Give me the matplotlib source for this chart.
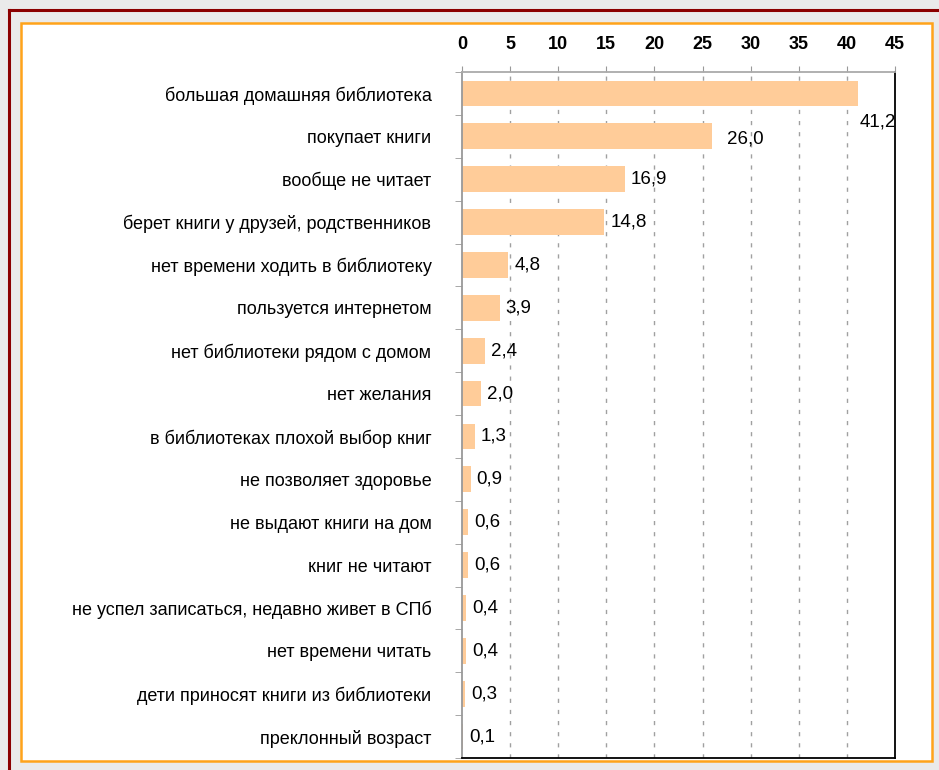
import numpy as np
import matplotlib.pyplot as plt
from matplotlib.patches import Rectangle
from matplotlib.lines import Line2D

plt.rcParams['font.family'] = ['Liberation Sans', 'DejaVu Sans']

categories = [
    'большая домашняя библиотека',
    'покупает книги',
    'вообще не читает',
    'берет книги у друзей, родственников',
    'нет времени ходить в библиотеку',
    'пользуется интернетом',
    'нет библиотеки рядом с домом',
    'нет желания',
    'в библиотеках плохой выбор книг',
    'не позволяет здоровье',
    'не выдают книги на дом',
    'книг не читают',
    'не успел записаться, недавно живет в СПб',
    'нет времени читать',
    'дети приносят книги из библиотеки',
    'преклонный возраст',
]
values = [41.2, 26.0, 16.9, 14.8, 4.8, 3.9, 2.4, 2.0, 1.3, 0.9, 0.6, 0.6, 0.4, 0.4, 0.3, 0.1]
xticks = [0, 5, 10, 15, 20, 25, 30, 35, 40, 45]

W, H = 939, 770
fig = plt.figure(figsize=(W / 100, H / 100), dpi=100)
fig.patch.set_facecolor('#EAEAEA')

# frame: dark red outer edge, orange inner box (behind the axes)
fig.add_artist(Line2D([9 / W, 9 / W], [0, 1 - 10 / H], color='#8B0000', lw=2.2,
                      transform=fig.transFigure, zorder=-5))
fig.add_artist(Line2D([9 / W, 1], [1 - 10 / H, 1 - 10 / H], color='#8B0000', lw=2.2,
                      transform=fig.transFigure, zorder=-5))
fig.add_artist(Rectangle((21 / W, 1 - 761 / H), (932 - 21) / W, (761 - 23) / H,
                         facecolor='white', edgecolor='#FFA31A', lw=1.8,
                         transform=fig.transFigure, zorder=-5))

ax = fig.add_axes([462 / W, 1 - 758 / H, (895 - 462) / W, (758 - 72) / H])
ax.patch.set_alpha(0)
n = len(categories)
y = np.arange(n)
ax.barh(y, values, height=0.6, color='#FFCC99', zorder=2)
ax.set_xlim(0, 45)
ax.set_ylim(n - 0.5, -0.5)

ax.xaxis.tick_top()
ax.set_xticks(xticks)
ax.set_xticklabels([str(t) for t in xticks], fontsize=13, fontweight='bold')
ax.tick_params(axis='x', direction='out', length=4, color='#999999', pad=10)

ax.set_yticks(y)
ax.set_yticklabels(categories, fontsize=13)
ax.set_yticks(np.arange(n + 1) - 0.5, minor=True)
ax.tick_params(axis='y', which='major', length=0, pad=22)
ax.tick_params(axis='y', which='minor', length=5, color='#999999', direction='out')

for x in xticks[1:-1]:
    ax.axvline(x, color='#A0A0A0', lw=1, ls=(0, (3, 5)), zorder=1)

ax.spines['left'].set_color('#999999')
ax.spines['top'].set_color('#AAAAAA')
ax.spines['right'].set_color('black')
ax.spines['bottom'].set_color('black')
for s in ax.spines.values():
    s.set_linewidth(1.3)

offsets = {0: (1, -29), 1: (15, -3)}
for i, v in enumerate(values):
    dx, dy = offsets.get(i, (6, 0))
    ax.annotate(f'{v:.1f}'.replace('.', ','), (v, i), xytext=(dx, dy), textcoords='offset pixels',
                ha='left', va='center', fontsize=13.5, zorder=3)

fig.savefig('out.png', dpi=100, facecolor=fig.get_facecolor())
